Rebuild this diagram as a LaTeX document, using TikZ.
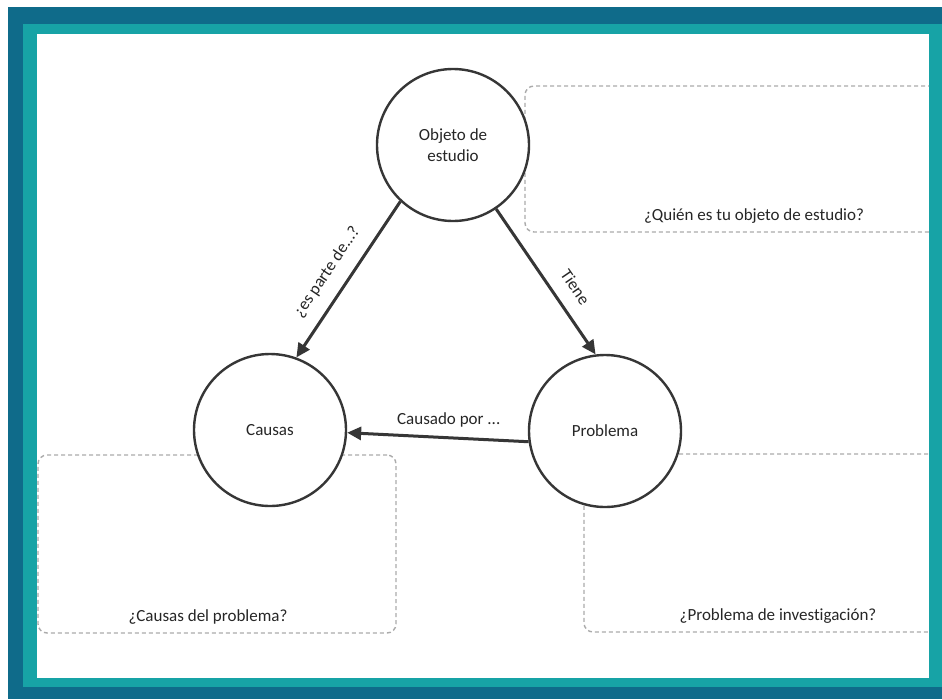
\documentclass[tikz,border=0pt]{standalone}
\usepackage{fontspec}
\setmainfont[Ligatures=CommonOff]{Carlito}
\usetikzlibrary{arrows.meta,positioning}
\definecolor{framedark}{HTML}{0F6B8A}
\definecolor{framelight}{HTML}{17A3A6}
\definecolor{ink}{HTML}{363636}
\definecolor{dashgray}{HTML}{ABABAB}

\begin{document}
\begin{tikzpicture}[x=1pt,y=-1pt,
    concept/.style={circle,draw=ink,line width=2.4pt,fill=white,
                    minimum size=152pt,inner sep=0pt,align=center,text=black!85},
    answer/.style={draw=dashgray,dash pattern=on 4pt off 3pt,line width=1.4pt,
                   rounded corners=9pt,inner sep=0pt},
    link/.style={-{Triangle[length=14pt,width=13pt]},draw=ink,line width=3pt},
    hint/.style={inner sep=0pt,text=black!85},
    font=\fontsize{17}{21}\selectfont,
  ]
  \useasboundingbox (0,0) rectangle (942,699);
  % frame
  \fill[framedark] (8,7) rectangle (942,699);
  \fill[framelight] (23,24) rectangle (942,687);
  \fill[white] (37,34) rectangle (929,678);

  % answer boxes
  \begin{scope}
    \clip (37,34) rectangle (929,678);
    \node[answer,minimum width=458pt,minimum height=146pt] (quienbox) at (754,159) {};
    \node[answer,minimum width=358pt,minimum height=178pt] (causasbox) at (217,544) {};
    \node[answer,minimum width=388pt,minimum height=178pt] (problemabox) at (778,543) {};
  \end{scope}
  \node[hint,above=9pt of quienbox.south] {¿Quién es tu objeto de estudio?};
  \node[hint,above=9pt of causasbox.south,xshift=-9pt] {¿Causas del problema?};
  \node[hint,above=9pt of problemabox.south] {¿Problema de investigación?};

  % concepts
  \node[concept] (objeto) at (453,145) {Objeto de\\estudio};
  \node[concept] (causas) at (270,430) {Causas};
  \node[concept] (problema) at (605,431) {Problema};

  \draw[link] (objeto.227) -- node[hint,sloped,above=13pt,pos=0.53] {¿es parte de...?} (causas.70);
  \draw[link] (objeto.304) -- node[hint,sloped,above=14pt,pos=0.62] {Tiene} (problema.97);
  \draw[link] (problema.188) -- node[hint,above=9pt,pos=0.44] {Causado por ...} (causas.358);
\end{tikzpicture}
\end{document}
